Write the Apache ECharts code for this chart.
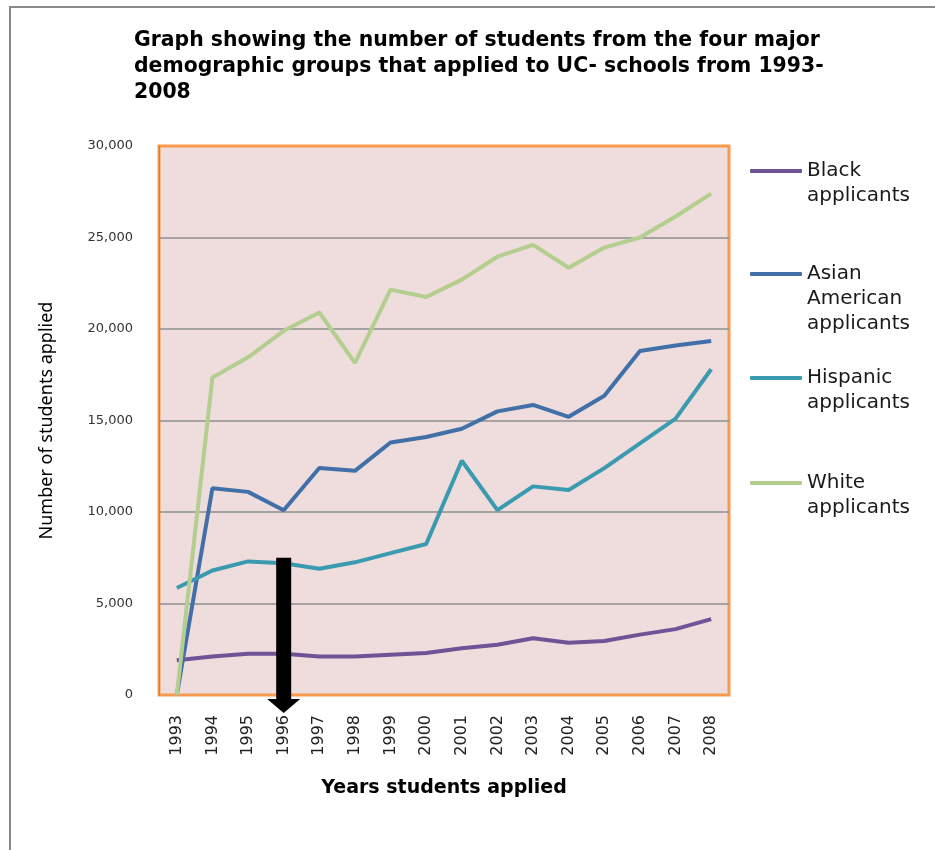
<!DOCTYPE html>
<html>
<head>
<meta charset="utf-8">
<script src="https://cdn.jsdelivr.net/npm/echarts@6/dist/echarts.min.js"></script>
<style>
  html, body { margin: 0; padding: 0; background: #ffffff; }
  #chart { width: 935px; height: 850px; }
</style>
</head>
<body>
<div id="chart"></div>
<script>
// Applicants to UC schools by demographic group, 1993-2008
const years = ['1993', '1994', '1995', '1996', '1997', '1998', '1999', '2000',
               '2001', '2002', '2003', '2004', '2005', '2006', '2007', '2008'];

const blackApplicants    = [1900, 2100, 2250, 2250, 2100, 2100, 2200, 2300, 2550, 2750, 3100, 2850, 2950, 3300, 3600, 4150];
const asianApplicants    = [0, 11300, 11100, 10100, 12400, 12250, 13800, 14100, 14550, 15500, 15850, 15200, 16350, 18800, 19100, 19350];
const hispanicApplicants = [5850, 6800, 7300, 7200, 6900, 7250, 7750, 8250, 12800, 10100, 11400, 11200, 12400, 13750, 15100, 17800];
const whiteApplicants    = [0, 17350, 18450, 19900, 20900, 18150, 22150, 21750, 22700, 23950, 24600, 23350, 24450, 25000, 26150, 27400];

const seriesNames = ['Black applicants', 'Asian American applicants', 'Hispanic applicants', 'White applicants'];
const legendLines = [['Black', 'applicants'], ['Asian', 'American', 'applicants'], ['Hispanic', 'applicants'], ['White', 'applicants']];
const seriesColors = ['#6E5396', '#4170A8', '#3A9AB0', '#B3CE8E'];
const seriesValues = [blackApplicants, asianApplicants, hispanicApplicants, whiteApplicants];

// Highlighted year: arrow drawn from this value down past the axis
const arrowYear = '1996';
const arrowFromValue = 7500;

const titleText = 'Graph showing the number of students from the four major\ndemographic groups that applied to UC- schools from 1993-\n2008';

const chart = echarts.init(document.getElementById('chart'), null, { renderer: 'canvas' });

// Legend entries: one legend per series so the swatch lines up with the first text line
const legendIconY = [171, 274, 378, 483];
const legendLineHeight = 25;
const legends = seriesNames.map((name, i) => {
  const n = legendLines[i].length;
  const padded = Array(n - 1).fill('').concat(legendLines[i]).join('\n');
  return {
    data: [name],
    orient: 'vertical',
    left: 750,
    top: legendIconY[i] - (2 * n - 1) * legendLineHeight / 2,
    padding: 0,
    icon: 'roundRect',
    itemWidth: 52,
    itemHeight: 4,
    itemGap: 0,
    selectedMode: false,
    formatter: () => padded,
    textStyle: {
      fontFamily: 'DejaVu Sans',
      fontSize: 20,
      color: '#1a1a1a',
      lineHeight: legendLineHeight
    }
  };
});

const lineSeries = seriesNames.map((name, i) => ({
  name: name,
  type: 'line',
  data: seriesValues[i],
  symbol: 'none',
  smooth: false,
  color: seriesColors[i],
  lineStyle: { width: 4, color: seriesColors[i] },
  itemStyle: { color: seriesColors[i] },
  z: 3 + i
}));

const arrowSeries = {
  type: 'custom',
  name: 'arrow',
  clip: false,
  silent: true,
  z: 20,
  data: [[arrowYear, arrowFromValue]],
  renderItem: function (params, api) {
    const top = api.coord([api.value(0), api.value(1)]);
    const base = api.coord([api.value(0), 0]);
    const cx = top[0];
    const halfBar = 7.5;
    const halfHead = 16.5;
    const headTop = base[1] + 4;
    const tip = headTop + 14;
    return {
      type: 'polygon',
      shape: {
        points: [
          [cx - halfBar, top[1]],
          [cx + halfBar, top[1]],
          [cx + halfBar, headTop],
          [cx + halfHead, headTop],
          [cx, tip],
          [cx - halfHead, headTop],
          [cx - halfBar, headTop]
        ]
      },
      style: { fill: '#000000' }
    };
  }
};

const option = {
  backgroundColor: '#ffffff',
  animation: false,
  title: {
    text: titleText,
    left: 134,
    top: 28,
    padding: 0,
    textStyle: {
      fontFamily: 'DejaVu Sans',
      fontWeight: 'bold',
      fontSize: 20.4,
      lineHeight: 26,
      color: '#000000'
    }
  },
  legend: legends,
  grid: {
    left: 159,
    top: 146,
    right: 206,
    bottom: 155,
    show: true,
    backgroundColor: '#EFDCDC',
    borderColor: '#F79A4C',
    borderWidth: 3
  },
  xAxis: {
    type: 'category',
    data: years,
    boundaryGap: true,
    name: 'Years students applied',
    nameLocation: 'middle',
    nameGap: 84,
    nameTextStyle: {
      fontFamily: 'DejaVu Sans',
      fontWeight: 'bold',
      fontSize: 19,
      color: '#000000'
    },
    axisLine: { show: false },
    axisTick: { show: false },
    axisLabel: {
      rotate: 90,
      margin: 20,
      fontFamily: 'DejaVu Sans',
      fontSize: 16,
      color: '#222222'
    },
    splitLine: { show: false }
  },
  yAxis: {
    type: 'value',
    min: 0,
    max: 30000,
    interval: 5000,
    name: 'Number of students applied',
    nameLocation: 'middle',
    nameGap: 103,
    nameTextStyle: {
      fontFamily: 'Noto Sans',
      fontSize: 18,
      color: '#000000'
    },
    axisLine: { show: true, lineStyle: { color: '#9a8a80', width: 1 } },
    axisTick: { show: false },
    axisLabel: {
      margin: 26,
      fontFamily: 'DejaVu Sans',
      fontSize: 13,
      color: '#333333',
      formatter: v => v.toLocaleString('en-US')
    },
    splitLine: {
      show: true,
      showMinLine: false,
      showMaxLine: false,
      lineStyle: { color: '#8f8f8f', width: 1.5 }
    }
  },
  graphic: [
    {
      type: 'polyline',
      silent: true,
      shape: { points: [[10, 850], [10, 7], [935, 7]] },
      style: { stroke: '#8a8a8a', lineWidth: 2, fill: null }
    }
  ],
  series: lineSeries.concat([arrowSeries])
};

chart.setOption(option);
</script>
</body>
</html>
